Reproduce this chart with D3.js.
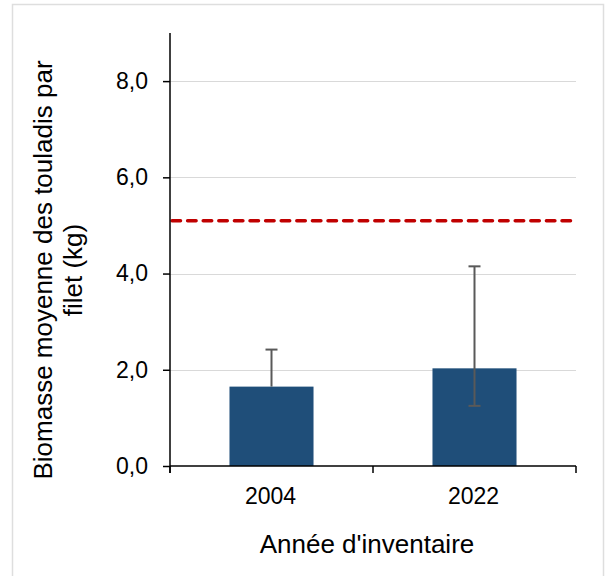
<!DOCTYPE html>
<html>
<head>
<meta charset="utf-8">
<script src="https://cdn.jsdelivr.net/npm/d3@7"></script>
<style>
  html, body { margin: 0; padding: 0; background: #fff; }
  svg { display: block; font-family: "Liberation Sans", Arial, sans-serif; }
</style>
</head>
<body>
<svg id="chart" width="608" height="576"></svg>
<script>
// Inventory years and mean lake trout biomass per net (kg)
const years = ["2004", "2022"];
const biomass = [1.65, 2.03];
const errLow = [1.65, 1.25];
const errHigh = [2.42, 4.15];
const reference = 5.1;
const yTicks = [0, 2, 4, 6, 8];
const yMax = 9;

const svg = d3.select("#chart");

// Light frame around the figure
svg.append("rect")
  .attr("x", 12.5).attr("y", 4.5)
  .attr("width", 591).attr("height", 600)
  .attr("fill", "none")
  .attr("stroke", "#dedede")
  .attr("stroke-width", 1.5);

const plot = { left: 170, right: 576, top: 33, bottom: 466 };

const x = d3.scaleBand().domain(years).range([plot.left, plot.right]).padding(0);
const y = d3.scaleLinear().domain([0, yMax]).range([plot.bottom, plot.top]);
const barW = x.bandwidth() * 0.414;

// Horizontal gridlines
svg.append("g")
  .selectAll("line")
  .data(yTicks.filter(d => d > 0))
  .join("line")
  .attr("x1", plot.left).attr("x2", plot.right)
  .attr("y1", d => Math.round(y(d)) + 0.5).attr("y2", d => Math.round(y(d)) + 0.5)
  .attr("stroke", "#d9d9d9").attr("stroke-width", 1);

// Bars
svg.append("g")
  .selectAll("rect")
  .data(years)
  .join("rect")
  .attr("x", d => x(d) + x.bandwidth() / 2 - barW / 2)
  .attr("y", (d, i) => y(biomass[i]))
  .attr("width", barW)
  .attr("height", (d, i) => y(0) - y(biomass[i]))
  .attr("fill", "#1f4e79");

// Error bars
const eb = svg.append("g").attr("stroke", "#595959").attr("stroke-width", 2);
years.forEach((d, i) => {
  const cx = x(d) + x.bandwidth() / 2;
  eb.append("line")
    .attr("x1", cx).attr("x2", cx)
    .attr("y1", y(errLow[i])).attr("y2", y(errHigh[i]));
  eb.append("line")
    .attr("x1", cx - 6).attr("x2", cx + 6)
    .attr("y1", y(errHigh[i])).attr("y2", y(errHigh[i]));
  if (errLow[i] < biomass[i]) {
    eb.append("line")
      .attr("x1", cx - 6).attr("x2", cx + 6)
      .attr("y1", y(errLow[i])).attr("y2", y(errLow[i]));
  }
});

// Reference level
svg.append("line")
  .attr("x1", plot.left + 2).attr("x2", plot.right - 1)
  .attr("y1", y(reference)).attr("y2", y(reference))
  .attr("stroke", "#c00000")
  .attr("stroke-width", 3.5)
  .attr("stroke-linecap", "round")
  .attr("stroke-dasharray", "8.5,7.1");

// Y axis
const yAxis = svg.append("g")
  .attr("transform", `translate(${plot.left},0)`)
  .call(d3.axisLeft(y).tickValues(yTicks).tickSize(7).tickPadding(15)
    .tickFormat(d => d3.format(".1f")(d).replace(".", ",")));
yAxis.select(".domain").remove();
yAxis.append("line")
  .attr("x1", 0).attr("x2", 0)
  .attr("y1", plot.top).attr("y2", plot.bottom + 7)
  .attr("stroke", "#000").attr("stroke-width", 1.5);
yAxis.selectAll(".tick line").attr("stroke", "#000").attr("stroke-width", 1.5);
yAxis.selectAll(".tick text")
  .attr("font-size", 23).attr("fill", "#000")
  .attr("font-family", "'Liberation Sans', Arial, sans-serif");

// X axis: ticks mark category boundaries
const xAxis = svg.append("g").attr("transform", `translate(0,${plot.bottom})`);
xAxis.append("line")
  .attr("x1", plot.left).attr("x2", plot.right)
  .attr("stroke", "#000").attr("stroke-width", 1.5);
const bounds = [plot.left, ...years.slice(1).map(d => x(d)), plot.right];
xAxis.selectAll(".bnd")
  .data(bounds)
  .join("line")
  .attr("class", "bnd")
  .attr("x1", d => d).attr("x2", d => d)
  .attr("y1", 0).attr("y2", 7)
  .attr("stroke", "#000").attr("stroke-width", 1.5);
xAxis.selectAll("text")
  .data(years)
  .join("text")
  .attr("x", d => x(d) + x.bandwidth() / 2 - 1)
  .attr("y", 37.5)
  .attr("text-anchor", "middle")
  .attr("font-size", 23)
  .text(d => d);

// Axis titles
svg.append("text")
  .attr("x", 367).attr("y", 553)
  .attr("text-anchor", "middle")
  .attr("font-size", 26)
  .text("Année d'inventaire");

const yTitle = svg.append("text")
  .attr("transform", "translate(52,270) rotate(-90)")
  .attr("text-anchor", "middle")
  .attr("font-size", 26);
yTitle.append("tspan").attr("x", 0).attr("y", 0).text("Biomasse moyenne des touladis par");
yTitle.append("tspan").attr("x", 0).attr("y", 30).text("filet (kg)");
</script>
</body>
</html>
